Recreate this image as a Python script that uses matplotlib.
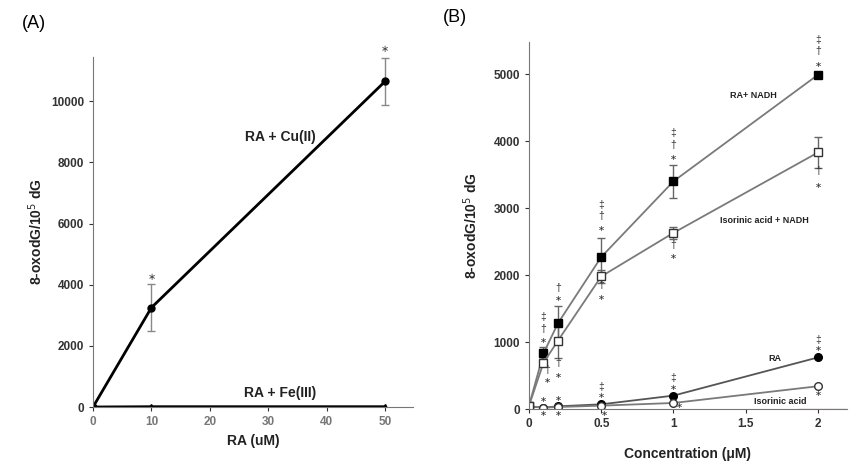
import matplotlib.pyplot as plt

plt.rcParams['font.family'] = ['Liberation Sans', 'DejaVu Sans']

# Panel A data
ra_um = [0, 10, 50]
cu_vals = [0, 3250, 10650]
cu_err = [0, 780, 770]
fe_vals = [0, 10, 10]

# Panel B data
conc = [0, 0.1, 0.2, 0.5, 1, 2]
ra_nadh = [50, 830, 1280, 2270, 3400, 4990]
ra_nadh_err = [20, 90, 260, 280, 250, 40]
iso_nadh = [50, 690, 1020, 1980, 2630, 3830]
iso_nadh_err = [20, 50, 260, 100, 90, 235]
ra_only = [40, 20, 40, 70, 200, 770]
iso_only = [40, 20, 30, 50, 90, 340]

# significance marks (x, y, text)
marks_a = [(10, 4250, '∗'), (50, 11700, '∗')]
marks_b = [
    (0.1, 1373, '‡'), (0.1, 1189, '†'), (0.1, 1004, '∗'),
    (0.125, 582, '†'), (0.125, 408, '∗'), (0.1, 124, '∗'), (0.1, -75, '∗'),
    (0.2, 1810, '†'), (0.2, 1642, '∗'), (0.2, 691, '†'), (0.2, 482, '∗'),
    (0.2, 145, '∗'), (0.2, -75, '∗'),
    (0.5, 3050, '‡'), (0.5, 2876, '†'), (0.5, 2677, '∗'),
    (0.5, 1856, '†'), (0.5, 1657, '∗'),
    (0.5, 333, '‡'), (0.5, 189, '∗'), (0.525, -75, '∗'),
    (1, 4120, '‡'), (1, 3945, '†'), (1, 3746, '∗'),
    (1, 2453, '†'), (1, 2269, '∗'),
    (1, 462, '‡'), (1, 313, '∗'), (1.04, 40, '∗'),
    (2, 5510, '‡'), (2, 5338, '†'), (2, 5134, '∗'),
    (2, 3547, '†'), (2, 3323, '∗'),
    (2, 1035, '‡'), (2, 886, '∗'), (2, 214, '∗'),
]

fig = plt.figure(figsize=(8.65, 4.66), dpi=100)

axA = fig.add_axes([0.1075, 0.1266, 0.37, 0.7511])
axA.errorbar(ra_um, cu_vals, yerr=cu_err, color='black', lw=2, marker='o', ms=5,
             ecolor='#888888', elinewidth=1, capsize=3)
axA.plot(ra_um, fe_vals, color='black', lw=2, marker='^', ms=5)
for x, y, t in marks_a:
    axA.text(x, y, t, ha='center', va='center', fontsize=7, color='#444444')
axA.text(32, 8820, 'RA + Cu(II)', ha='center', va='center', fontsize=10, fontweight='bold', color='#222222')
axA.text(32, 450, 'RA + Fe(III)', ha='center', va='center', fontsize=10, fontweight='bold', color='#222222')
axA.set_xlim(0, 54.8)
axA.set_ylim(0, 11450)
axA.set_xticks([0, 10, 20, 30, 40, 50])
axA.set_yticks([0, 2000, 4000, 6000, 8000, 10000])
axA.set_xlabel('RA (uM)', fontsize=10, fontweight='bold', color='#222222')
axA.set_ylabel('8-oxodG/10$^5$ dG', fontsize=10, fontweight='bold', color='#222222')
fig.text(0.025, 0.95, '(A)', fontsize=13, va='center')

axB = fig.add_axes([0.6116, 0.1223, 0.3674, 0.7876])
line_col = '#7a7a7a'
axB.errorbar(conc, ra_nadh, yerr=ra_nadh_err, color=line_col, lw=1.3, marker='s', ms=5.5,
             mfc='black', mec='black', ecolor='#666666', elinewidth=1, capsize=3)
axB.errorbar(conc, iso_nadh, yerr=iso_nadh_err, color=line_col, lw=1.3, marker='s', ms=5.5,
             mfc='white', mec='#333333', ecolor='#666666', elinewidth=1, capsize=3)
axB.plot(conc, ra_only, color='#555555', lw=1.3, marker='o', ms=5.5, mfc='black', mec='black')
axB.plot(conc, iso_only, color=line_col, lw=1.3, marker='o', ms=5.5, mfc='white', mec='#333333')
for x, y, t in marks_b:
    fs = 6 if t == '∗' else 7.5
    axB.text(x, y, t, ha='center', va='center', fontsize=fs, color='#333333', clip_on=False)
axB.text(1.55, 4680, 'RA+ NADH', ha='center', va='center', fontsize=6.5, fontweight='bold', color='#222222')
axB.text(1.63, 2816, 'Isorinic acid + NADH', ha='center', va='center', fontsize=6.5, fontweight='bold', color='#222222')
axB.text(1.70, 761, 'RA', ha='center', va='center', fontsize=6.5, fontweight='bold', color='#222222')
axB.text(1.74, 114, 'Isorinic acid', ha='center', va='center', fontsize=6.5, fontweight='bold', color='#222222')
axB.axhline(0, xmin=0.85, xmax=1, color='#d9a0a0', lw=1)
axB.set_xlim(0, 2.2)
axB.set_ylim(0, 5480)
axB.set_xticks([0, 0.5, 1, 1.5, 2])
axB.set_xticklabels(['0', '0.5', '1', '1.5', '2'])
axB.set_yticks([0, 1000, 2000, 3000, 4000, 5000])
axB.set_xlabel('Concentration (μM)', fontsize=10, fontweight='bold', labelpad=12, color='#222222')
axB.set_ylabel('8-oxodG/10$^5$ dG', fontsize=10, fontweight='bold', labelpad=10, color='#222222')
fig.text(0.512, 0.963, '(B)', fontsize=13, va='center')

for ax in (axA, axB):
    ax.spines['top'].set_visible(False)
    ax.spines['right'].set_visible(False)
    ax.spines['left'].set_color('#777777')
    ax.spines['bottom'].set_color('#777777')
    ax.tick_params(colors='#333333', labelsize=8.5, length=3, width=0.8)
    for lab in ax.get_xticklabels() + ax.get_yticklabels():
        lab.set_fontweight('bold')
axA.tick_params(axis='x', labelcolor='#777777')

fig.savefig('out.png', dpi=100)
